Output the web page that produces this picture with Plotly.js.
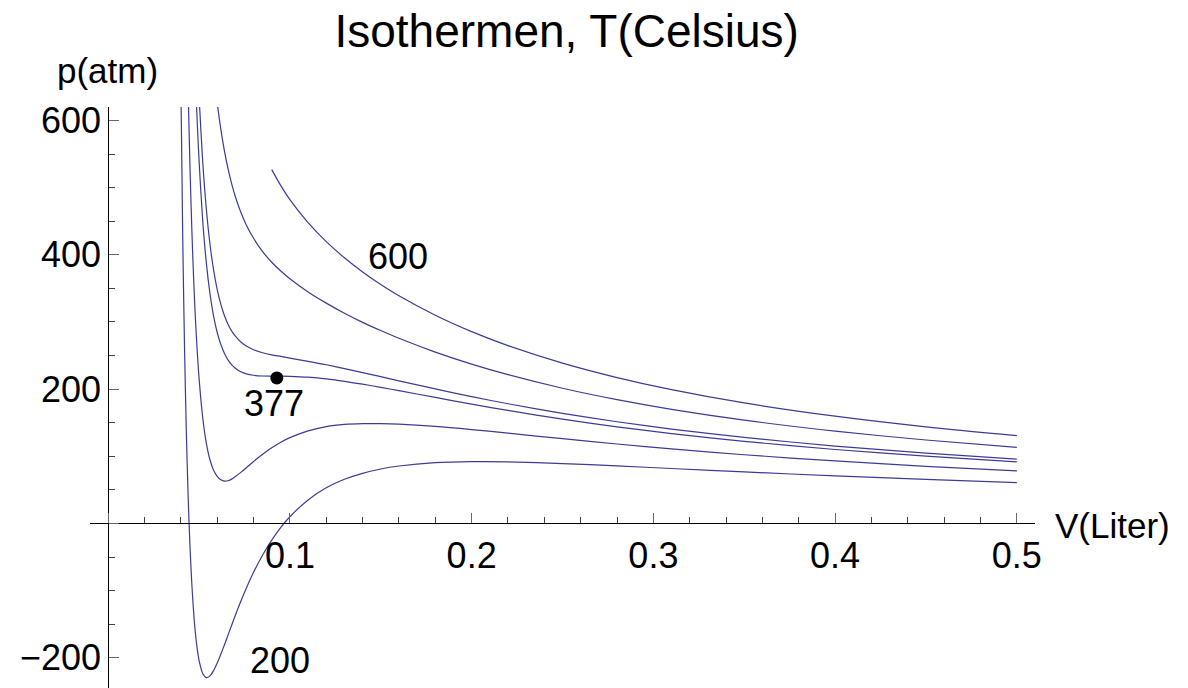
<!DOCTYPE html>
<html>
<head>
<meta charset="utf-8">
<script src="https://cdn.plot.ly/plotly-3.0.1.min.js"></script>
<style>html,body{margin:0;padding:0;background:#fff;}#chart{width:1188px;height:688px;}</style>
</head>
<body>
<div id="chart"></div>
<script>
// Isotherm data (V in Liter, p in atm)
const V_200 = [0.040,0.041,0.042,0.043,0.044,0.045,0.046,0.047,0.048,0.049,0.050,0.052,0.054,0.056,0.058,0.060,0.062,0.064,0.066,0.068,0.070,0.073,0.076,0.080,0.085,0.090,0.095,0.100,0.110,0.120,0.130,0.140,0.150,0.160,0.180,0.200,0.220,0.250,0.280,0.310,0.350,0.400,0.450,0.500];
const P_200 = [654.4,431.3,263.8,137.2,40.8,-32.9,-88.8,-131.3,-163.2,-186.8,-203.9,-223.4,-229.5,-226.9,-219.2,-207.9,-194.6,-180.5,-165.9,-151.1,-136.6,-115.9,-96.5,-72.8,-46.9,-24.8,-5.8,10.0,35.0,53.0,65.7,74.6,81.1,85.5,90.4,91.9,91.6,89.1,85.6,81.8,76.7,70.8,65.5,60.7];

const V_300 = [0.043,0.044,0.045,0.046,0.047,0.048,0.049,0.050,0.052,0.054,0.056,0.058,0.060,0.062,0.064,0.066,0.068,0.070,0.073,0.076,0.080,0.085,0.090,0.095,0.100,0.110,0.120,0.130,0.140,0.150,0.160,0.180,0.200,0.220,0.250,0.280,0.310,0.350,0.400,0.450,0.500];
const P_300 = [793.2,648.2,532.7,440.3,365.7,305.4,256.6,216.7,158.1,119.6,94.8,79.1,70.1,65.0,63.0,63.6,66.0,69.8,76.0,82.8,92.2,103.0,112.6,121.0,127.7,137.8,144.2,147.4,148.6,148.6,147.8,144.5,139.8,134.4,126.2,118.3,111.0,102.3,93.0,85.1,78.2];

const V_377 = [0.047,0.048,0.049,0.050,0.052,0.054,0.056,0.058,0.060,0.062,0.064,0.066,0.068,0.070,0.073,0.076,0.080,0.085,0.090,0.095,0.100,0.110,0.120,0.130,0.140,0.150,0.160,0.180,0.200,0.220,0.250,0.280,0.310,0.350,0.400,0.450,0.500];
const P_377 = [748.5,666.3,597.9,540.6,451.8,388.3,342.5,308.8,284.3,266.3,253.0,243.2,236.1,231.0,225.8,222.7,220.6,219.5,219.3,219.3,219.0,217.7,215.2,211.6,207.3,202.7,197.7,187.6,177.6,168.2,155.3,143.8,133.8,122.2,110.1,100.2,91.7];

const V_400 = [0.048,0.049,0.050,0.052,0.054,0.056,0.058,0.060,0.062,0.064,0.066,0.068,0.070,0.073,0.076,0.080,0.085,0.090,0.095,0.100,0.110,0.120,0.130,0.140,0.150,0.160,0.180,0.200,0.220,0.250,0.280,0.310,0.350,0.400,0.450,0.500];
const P_400 = [774.1,699.9,637.3,539.6,468.6,416.4,377.4,348.2,326.2,309.3,296.3,286.4,278.8,270.2,264.1,258.7,254.1,251.0,248.6,246.1,241.4,236.3,230.6,224.5,218.5,212.3,200.3,188.8,178.2,163.9,151.4,140.5,128.1,115.2,104.7,95.7];

const V_500 = [0.056,0.058,0.060,0.062,0.064,0.066,0.068,0.070,0.073,0.076,0.080,0.085,0.090,0.095,0.100,0.110,0.120,0.130,0.140,0.150,0.160,0.180,0.200,0.220,0.250,0.280,0.310,0.350,0.400,0.450,0.500];
const P_500 = [738.1,675.7,626.3,586.6,554.2,527.4,505.2,486.4,463.2,444.4,424.5,404.7,388.9,375.8,364.2,344.6,328.0,313.0,299.4,287.2,275.7,255.1,237.2,221.5,201.3,184.3,169.9,153.8,137.4,124.2,113.2];

const V_600 = [0.090,0.095,0.100,0.110,0.120,0.130,0.140,0.150,0.160,0.180,0.200,0.220,0.250,0.280,0.310,0.350,0.400,0.450,0.500];
const P_600 = [526.8,503.0,482.2,447.9,419.6,395.5,374.4,355.8,339.0,310.0,285.6,264.8,238.7,217.2,199.2,179.4,159.7,143.8,130.6];

// critical point and curve labels
const CRIT_V = [0.0928];
const CRIT_P = [216.7];
const LABEL_TEXT = ['600', '377', '200'];
const LABEL_V = [0.1596, 0.0915, 0.0945];
const LABEL_P = [397, 179, -204];

const X_TICKS = [0, 0.1, 0.2, 0.3, 0.4, 0.5];
const X_TICKTEXT = ['', '0.1', '0.2', '0.3', '0.4', '0.5'];
const Y_TICKS = [-200, 0, 200, 400, 600];
const Y_TICKTEXT = ['\u2212200', '', '200', '400', '600'];

const FONT = 'Liberation Sans, Arial, Helvetica, sans-serif';
const LINE = {color: '#3c3c96', width: 1.2, shape: 'spline', smoothing: 0.8};

const curves = [[V_200,P_200],[V_300,P_300],[V_377,P_377],[V_400,P_400],[V_500,P_500],[V_600,P_600]];
const traces = curves.map(c => ({x: c[0], y: c[1], type: 'scatter', mode: 'lines', line: LINE, hoverinfo: 'skip'}));
traces.push({x: CRIT_V, y: CRIT_P, type: 'scatter', mode: 'markers', marker: {color: '#000', size: 13}, cliponaxis: false});

const annotations = LABEL_TEXT.map((t, i) => ({
  x: LABEL_V[i], y: LABEL_P[i], xref: 'x', yref: 'y', text: t, showarrow: false,
  font: {family: FONT, size: 36, color: '#000'}, xanchor: 'center', yanchor: 'middle'
}));
annotations.push({x: 0.019, y: 1.062, xref: 'paper', yref: 'paper', text: 'p(atm)', showarrow: false,
  font: {family: FONT, size: 35, color: '#000'}, xanchor: 'center', yanchor: 'middle'});
annotations.push({x: 1.0825, y: 0.279, xref: 'paper', yref: 'paper', text: 'V(Liter)', showarrow: false,
  font: {family: FONT, size: 35, color: '#000'}, xanchor: 'center', yanchor: 'middle'});

const layout = {
  width: 1188, height: 688,
  margin: {l: 90, r: 153, t: 107, b: 0},
  paper_bgcolor: '#fff', plot_bgcolor: '#fff',
  showlegend: false,
  title: {text: 'Isothermen, T(Celsius)', font: {family: FONT, size: 46, color: '#000'},
          x: 0.477, xanchor: 'center', xref: 'container', y: 0.955, yref: 'container', yanchor: 'middle'},
  xaxis: {
    range: [-0.01, 0.51], anchor: 'free', position: 0.2832,
    showline: true, linecolor: '#000', linewidth: 1,
    showgrid: false, zeroline: false,
    tickmode: 'array', tickvals: X_TICKS, ticktext: X_TICKTEXT,
    ticks: 'inside', ticklen: 10, tickwidth: 1, tickcolor: '#666',
    tickfont: {family: FONT, size: 36, color: '#000'},
    minor: {tickmode: 'linear', tick0: 0, dtick: 0.02, ticks: 'inside', ticklen: 6, tickwidth: 1, tickcolor: '#444', showgrid: false},
    automargin: false
  },
  yaxis: {
    range: [-245, 620], anchor: 'free', position: 0.01923,
    showline: true, linecolor: '#000', linewidth: 1,
    showgrid: false, zeroline: false,
    tickmode: 'array', tickvals: Y_TICKS, ticktext: Y_TICKTEXT,
    ticks: 'inside', ticklen: 10, tickwidth: 1, tickcolor: '#666',
    tickfont: {family: FONT, size: 36, color: '#000'},
    minor: {tickmode: 'linear', tick0: 0, dtick: 50, ticks: 'inside', ticklen: 6, tickwidth: 1, tickcolor: '#444', showgrid: false},
    automargin: false
  },
  annotations: annotations
};

Plotly.newPlot('chart', traces, layout, {staticPlot: true, displayModeBar: false});
</script>
</body>
</html>
